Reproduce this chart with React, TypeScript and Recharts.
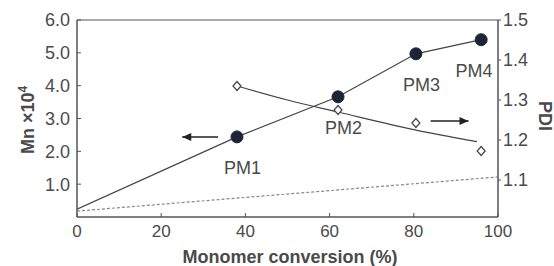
import React from 'react';
import { ComposedChart, Line, Scatter, XAxis, YAxis, ReferenceArea, LabelList } from 'recharts';

const conversion = [38, 62, 80.5, 96];
const mnValues = [2.44, 3.66, 4.97, 5.4];
const pdiValues = [1.335, 1.275, 1.2425, 1.1725];
const pointLabels = ['PM1', 'PM2', 'PM3', 'PM4'];

const mnLineX = [0, 38, 62, 80.5, 96];
const mnLineY = [0.24, 2.44, 3.66, 4.97, 5.4];
const theoryX = [0, 100];
const theoryY = [0.18, 1.22];
const pdiFitX = [38, 50, 62, 80, 95];
const pdiFitY = [1.335, 1.3, 1.27, 1.226, 1.196];

const leftArrowX = [25, 33.5];
const leftArrowY = [2.44, 2.44];
const rightArrowX = [84, 93];
const rightArrowY = [1.2475, 1.2475];

const xTicks = [0, 20, 40, 60, 80, 100];
const mnTicks = [1, 2, 3, 4, 5, 6];
const pdiTicks = [1.1, 1.2, 1.3, 1.4, 1.5];

const mnData = conversion.map((x, i) => ({ x, y: mnValues[i], label: pointLabels[i] }));
const pdiData = conversion.map((x, i) => ({ x, y: pdiValues[i] }));
const mnLine = mnLineX.map((x, i) => ({ x, y: mnLineY[i] }));
const theory = theoryX.map((x, i) => ({ x, y: theoryY[i] }));
const pdiFit = pdiFitX.map((x, i) => ({ x, y: pdiFitY[i] }));
const leftArrow = leftArrowX.map((x, i) => ({ x, y: leftArrowY[i] }));
const rightArrow = rightArrowX.map((x, i) => ({ x, y: rightArrowY[i] }));

const TEXT = '#4a4a4a';
const LINE = '#555';
const FONT = '"Liberation Sans", Arial, sans-serif';

const Circle = (p: any) => <circle cx={p.cx} cy={p.cy} r={6} fill="#1c2538" stroke="#1c2538" />;
const Diamond = (p: any) => (
  <path
    d={`M${p.cx},${p.cy - 4.5} L${p.cx + 4},${p.cy} L${p.cx},${p.cy + 4.5} L${p.cx - 4},${p.cy} Z`}
    fill="#fff"
    stroke="#444"
    strokeWidth={1.2}
  />
);

const arrowDot = (dir: 'left' | 'right') => (p: any) => {
  const { cx, cy, index } = p;
  const headIdx = dir === 'left' ? 0 : 1;
  if (index !== headIdx) return <g key={index} />;
  const s = dir === 'left' ? 1 : -1;
  return (
    <path key={index} d={`M${cx},${cy} L${cx + s * 9},${cy - 4} L${cx + s * 9},${cy + 4} Z`} fill="#222" stroke="none" />
  );
};

const PMLabel = (p: any) => {
  const { x, y, value } = p;
  const tx = Math.min(x + 10, 474);
  return (
    <text x={tx} y={y + 42} textAnchor="middle" fontSize={18} fill={TEXT} fontFamily={FONT}>
      {value}
    </text>
  );
};

export default function App() {
  return (
    <div style={{ position: 'absolute', left: 0, top: 0, width: 554, height: 266, background: '#fff' }}>
      <ComposedChart width={554} height={266} margin={{ top: 20, right: 0, bottom: 0, left: 0 }}>
        <XAxis
          type="number"
          dataKey="x"
          domain={[0, 100]}
          ticks={xTicks}
          height={49}
          tickSize={-4}
          tickMargin={12}
          axisLine={{ stroke: LINE }}
          tickLine={{ stroke: LINE }}
          tick={{ fontSize: 17, fill: TEXT, fontFamily: FONT }}
          allowDataOverflow
        />
        <YAxis
          yAxisId="mn"
          orientation="left"
          type="number"
          domain={[0, 6]}
          ticks={mnTicks}
          width={77}
          tickSize={-4}
          tickMargin={11}
          tickFormatter={(v: number) => v.toFixed(1)}
          axisLine={{ stroke: LINE }}
          tickLine={{ stroke: LINE }}
          tick={{ fontSize: 18, fill: TEXT, fontFamily: FONT }}
          allowDataOverflow
        />
        <YAxis
          yAxisId="pdi"
          orientation="right"
          type="number"
          domain={[1.0075, 1.5]}
          ticks={pdiTicks}
          width={56}
          tickSize={3}
          tickMargin={2}
          tickFormatter={(v: number) => v.toFixed(1)}
          axisLine={{ stroke: LINE }}
          tickLine={{ stroke: LINE }}
          tick={{ fontSize: 18, fill: TEXT, fontFamily: FONT }}
          allowDataOverflow
        />
        <ReferenceArea yAxisId="mn" x1={0} x2={100} y1={0} y2={6} fill="none" stroke={LINE} strokeWidth={1} ifOverflow="visible" />
        <Line yAxisId="mn" data={theory} dataKey="y" type="linear" stroke="#888" strokeWidth={1.2} strokeDasharray="3 2" dot={false} isAnimationActive={false} />
        <Line yAxisId="mn" data={mnLine} dataKey="y" type="linear" stroke="#444" strokeWidth={1.2} dot={false} isAnimationActive={false} />
        <Line yAxisId="pdi" data={pdiFit} dataKey="y" type="monotone" stroke="#444" strokeWidth={1.2} dot={false} isAnimationActive={false} />
        <Line yAxisId="mn" data={leftArrow} dataKey="y" type="linear" stroke="#222" strokeWidth={1.5} dot={arrowDot('left')} activeDot={false} isAnimationActive={false} />
        <Line yAxisId="pdi" data={rightArrow} dataKey="y" type="linear" stroke="#222" strokeWidth={1.5} dot={arrowDot('right')} activeDot={false} isAnimationActive={false} />
        <Scatter yAxisId="pdi" data={pdiData} dataKey="y" shape={Diamond} isAnimationActive={false} />
        <Scatter yAxisId="mn" data={mnData} dataKey="y" shape={Circle} isAnimationActive={false}>
          <LabelList dataKey="label" content={PMLabel} />
        </Scatter>
        <text x={290} y={263} textAnchor="middle" fontSize={18} fontWeight="bold" fill={TEXT} fontFamily={FONT}>
          Monomer conversion (%)
        </text>
        <text x={34} y={120} textAnchor="middle" fontSize={18} fontWeight="bold" fill={TEXT} fontFamily={FONT} transform="rotate(-90 34 120)">
          Mn ×10<tspan dy={-7} fontSize={12}>4</tspan>
        </text>
        <text x={539} y={116} textAnchor="middle" fontSize={18} fontWeight="bold" fill={TEXT} fontFamily={FONT} transform="rotate(90 539 116)">
          PDI
        </text>
      </ComposedChart>
    </div>
  );
}
